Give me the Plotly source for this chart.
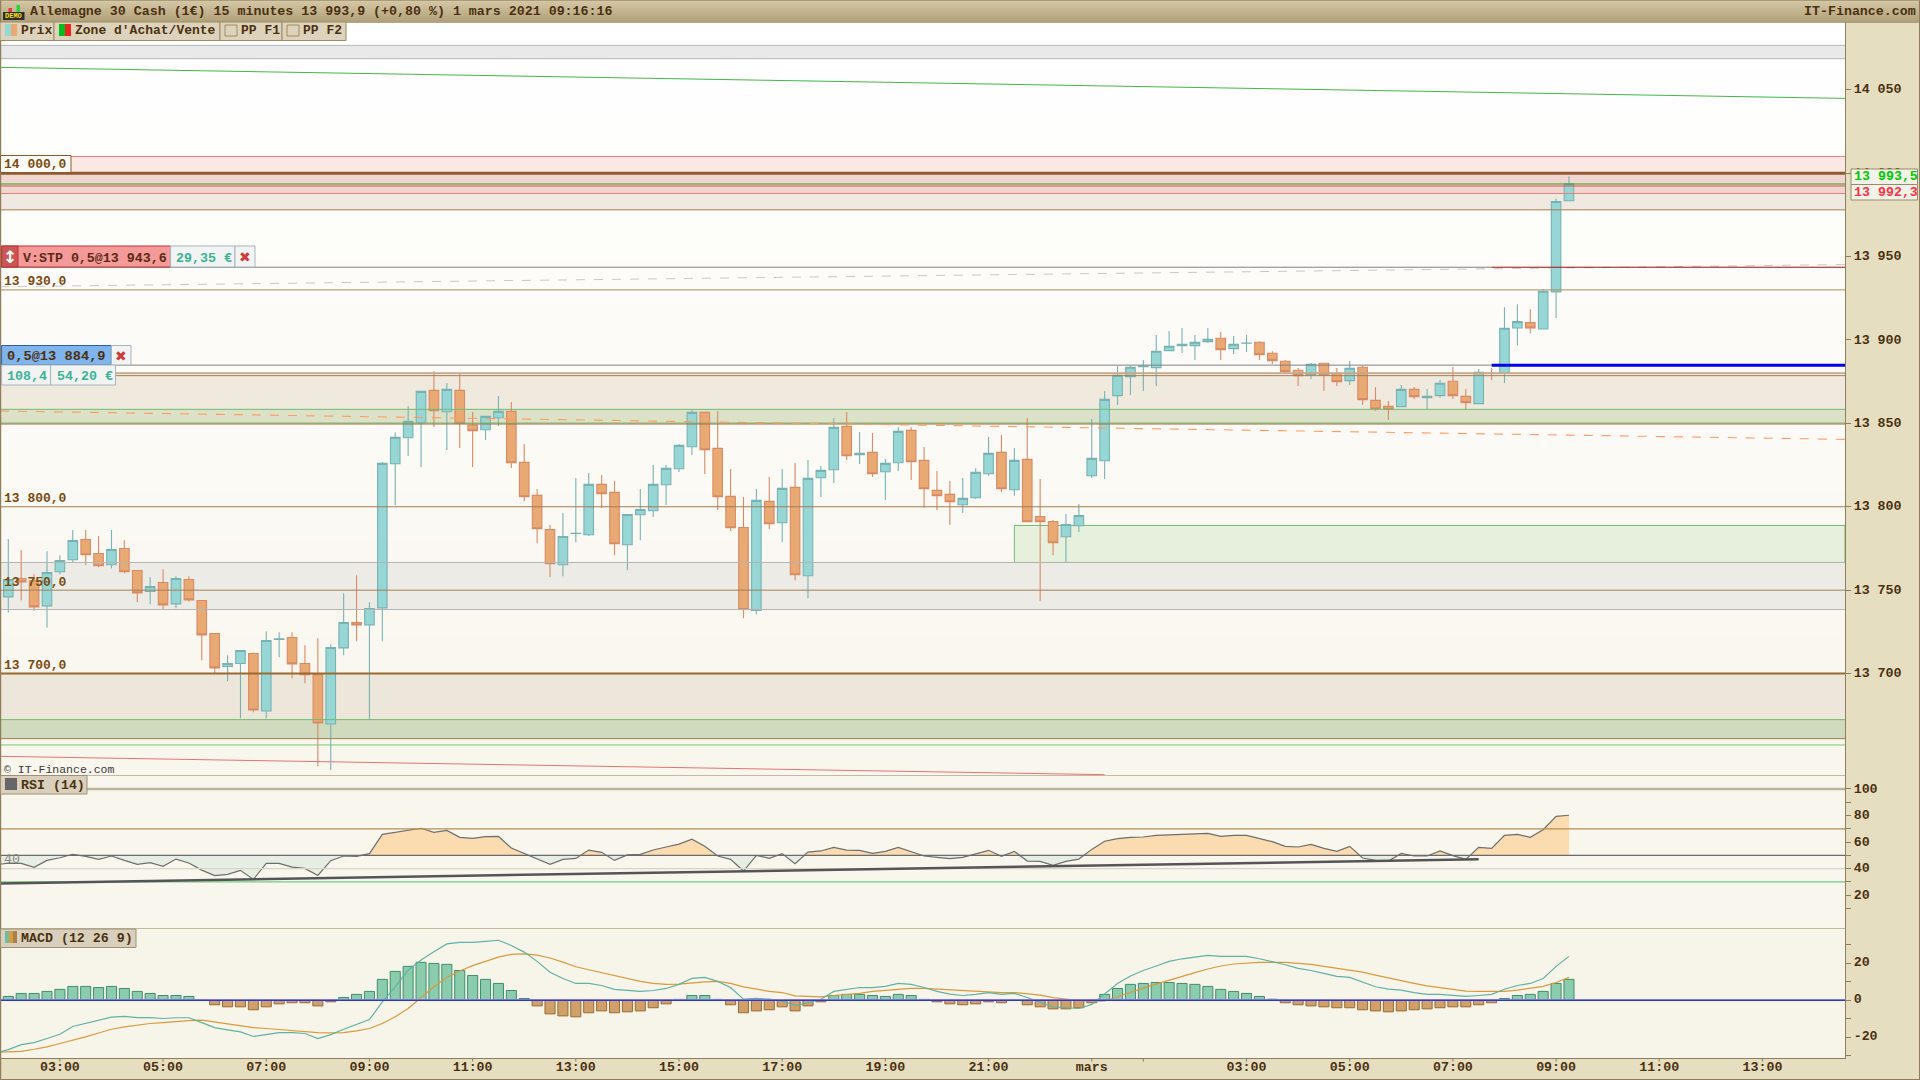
#! /usr/bin/env python
"""Allemagne 30 Cash, 15 minutes, with RSI and MACD panels."""

import numpy as np
import plotly.graph_objects as go

# Candles, one per 15 minutes, bar 0 is 02:00
opens = [13746.0, 13757.0, 13755.6, 13740.6, 13761.0, 13768.2, 13780.4, 13772.0, 13765.2, 13775.0, 13761.8, 13749.2, 13754.6, 13741.8, 13756.4, 13743.8, 13724.0, 13704.2, 13706.0, 13712.0, 13677.6, 13720.4, 13721.6, 13706.0, 13699.4, 13669.8, 13715.4, 13730.6, 13729.2, 13739.4, 13825.8, 13841.4, 13850.4, 13869.8, 13857.0, 13869.8, 13849.0, 13846.2, 13853.4, 13857.2, 13826.6, 13806.8, 13786.4, 13765.2, 13784.0, 13783.2, 13813.4, 13808.6, 13777.2, 13795.2, 13797.6, 13813.2, 13822.8, 13836.0, 13856.6, 13835.0, 13806.2, 13787.6, 13737.8, 13803.2, 13790.4, 13811.6, 13758.6, 13817.4, 13822.2, 13848.2, 13831.2, 13832.6, 13821.0, 13826.4, 13845.8, 13827.8, 13809.8, 13807.4, 13801.2, 13805.4, 13819.8, 13832.6, 13810.2, 13828.4, 13794.2, 13791.2, 13782.0, 13788.6, 13818.6, 13827.6, 13866.6, 13878.0, 13884.0, 13883.4, 13893.6, 13896.6, 13896.6, 13899.0, 13901.0, 13894.8, 13898.0, 13898.6, 13892.0, 13887.2, 13881.8, 13879.2, 13886.0, 13880.0, 13875.6, 13883.6, 13863.8, 13860.2, 13860.0, 13870.4, 13865.4, 13866.6, 13875.2, 13866.2, 13861.8, 13880.0, 13880.0, 13907.2, 13910.4, 13906.6, 13928.8, 13983.4]
highs = [13780.6, 13774.0, 13759.6, 13773.4, 13771.0, 13786.0, 13786.0, 13782.4, 13786.0, 13780.0, 13761.8, 13757.8, 13762.6, 13758.4, 13758.4, 13743.8, 13724.0, 13711.0, 13713.8, 13712.6, 13725.4, 13724.8, 13724.8, 13717.0, 13721.2, 13717.6, 13748.2, 13759.0, 13742.8, 13826.8, 13844.6, 13860.4, 13869.2, 13881.2, 13874.2, 13880.2, 13856.8, 13854.2, 13866.4, 13862.8, 13837.6, 13810.6, 13789.0, 13796.2, 13817.2, 13820.2, 13819.0, 13815.4, 13795.4, 13810.6, 13825.0, 13825.0, 13837.6, 13858.4, 13856.6, 13857.4, 13822.6, 13805.8, 13810.6, 13817.8, 13822.6, 13826.2, 13828.0, 13824.4, 13853.2, 13856.8, 13844.8, 13844.2, 13828.6, 13847.6, 13847.6, 13835.8, 13821.4, 13815.4, 13817.2, 13823.2, 13841.8, 13843.0, 13835.2, 13853.2, 13816.6, 13792.0, 13795.6, 13801.6, 13852.6, 13869.4, 13884.4, 13884.4, 13888.0, 13903.0, 13905.4, 13907.2, 13903.0, 13907.2, 13904.8, 13902.4, 13903.0, 13899.2, 13893.2, 13888.0, 13883.2, 13886.2, 13886.0, 13883.2, 13887.4, 13884.4, 13871.8, 13863.4, 13873.0, 13871.8, 13870.6, 13876.0, 13883.8, 13870.6, 13882.6, 13883.2, 13919.6, 13921.4, 13918.4, 13930.4, 13984.8, 13998.2]
lows = [13736.4, 13744.0, 13737.6, 13727.4, 13759.6, 13766.6, 13765.0, 13763.8, 13763.2, 13760.2, 13742.8, 13741.6, 13738.4, 13739.2, 13743.0, 13708.0, 13699.6, 13695.4, 13673.2, 13676.8, 13673.2, 13709.8, 13697.2, 13694.2, 13644.4, 13642.0, 13711.0, 13719.4, 13672.4, 13719.4, 13801.0, 13830.4, 13823.8, 13847.8, 13834.0, 13835.2, 13823.8, 13840.0, 13848.4, 13823.2, 13803.4, 13778.2, 13757.8, 13758.4, 13778.8, 13782.4, 13799.2, 13771.0, 13762.0, 13780.0, 13793.8, 13801.0, 13820.8, 13831.0, 13819.6, 13798.0, 13785.4, 13733.2, 13735.6, 13786.6, 13778.8, 13756.0, 13745.2, 13805.8, 13814.2, 13828.0, 13825.6, 13817.8, 13804.0, 13821.4, 13816.0, 13799.4, 13798.0, 13789.0, 13796.2, 13804.6, 13818.6, 13808.8, 13806.6, 13791.0, 13743.4, 13771.0, 13766.6, 13784.8, 13817.2, 13816.6, 13861.0, 13867.0, 13869.4, 13872.4, 13893.6, 13892.2, 13888.0, 13898.2, 13888.0, 13891.6, 13892.8, 13888.0, 13885.6, 13879.6, 13872.4, 13876.6, 13869.4, 13872.4, 13873.0, 13861.0, 13857.6, 13852.0, 13860.0, 13864.6, 13858.2, 13865.4, 13864.6, 13858.2, 13861.8, 13876.0, 13874.2, 13896.8, 13904.0, 13906.6, 13913.2, 13983.4]
closes = [13756.4, 13755.0, 13740.0, 13760.6, 13767.8, 13779.8, 13771.2, 13764.6, 13774.4, 13761.0, 13748.4, 13752.2, 13741.2, 13757.0, 13744.2, 13723.2, 13703.4, 13706.0, 13713.8, 13678.2, 13719.8, 13720.8, 13705.8, 13699.4, 13670.4, 13715.6, 13730.6, 13729.2, 13739.0, 13826.0, 13841.6, 13851.2, 13869.2, 13857.6, 13870.4, 13850.0, 13845.6, 13854.2, 13857.2, 13826.4, 13806.0, 13786.8, 13765.8, 13782.2, 13784.1, 13813.4, 13807.8, 13777.8, 13795.4, 13798.4, 13813.4, 13823.0, 13836.8, 13856.6, 13834.2, 13806.0, 13787.4, 13738.4, 13803.8, 13789.8, 13811.0, 13759.2, 13817.0, 13821.8, 13847.6, 13830.6, 13832.0, 13819.8, 13826.0, 13845.2, 13827.0, 13810.8, 13806.6, 13803.0, 13805.0, 13820.6, 13832.0, 13810.8, 13827.8, 13791.0, 13791.0, 13778.4, 13789.4, 13794.8, 13829.0, 13864.4, 13878.8, 13883.6, 13884.4, 13893.2, 13896.2, 13897.4, 13898.6, 13900.4, 13894.2, 13897.4, 13898.1, 13891.2, 13887.6, 13881.0, 13878.6, 13885.4, 13879.0, 13875.0, 13883.0, 13864.2, 13858.8, 13858.4, 13870.4, 13866.0, 13866.2, 13874.0, 13866.6, 13862.4, 13880.6, 13879.9, 13907.0, 13911.0, 13907.2, 13929.2, 13983.0, 13993.6]

# Indicator lines start one bar earlier, the first point sits just off the left edge
rsi = [42.8, 44.2, 44.0, 41.0, 46.2, 48.2, 50.8, 49.2, 47.0, 49.5, 46.2, 43.2, 44.5, 41.7, 47.2, 44.2, 38.9, 34.7, 35.7, 38.7, 31.9, 44.0, 44.0, 41.2, 40.2, 34.9, 46.0, 49.5, 49.2, 51.3, 65.8, 67.3, 68.8, 70.4, 67.3, 68.8, 63.6, 62.8, 64.1, 64.3, 55.5, 51.5, 47.5, 43.2, 47.0, 47.7, 54.0, 52.3, 46.2, 50.3, 50.8, 54.0, 56.3, 58.5, 62.1, 56.8, 49.5, 47.0, 38.2, 50.0, 47.7, 51.3, 43.7, 52.5, 53.3, 56.0, 54.0, 53.8, 51.5, 53.0, 56.0, 53.0, 49.5, 48.5, 47.5, 48.5, 51.3, 53.8, 49.2, 53.0, 45.7, 45.5, 42.5, 45.5, 47.2, 54.5, 60.6, 62.6, 63.6, 63.8, 65.1, 65.6, 65.8, 66.6, 66.6, 64.3, 65.1, 65.1, 62.6, 60.3, 56.8, 56.3, 58.3, 55.3, 53.0, 56.8, 48.0, 46.2, 45.7, 51.5, 49.5, 49.5, 53.3, 49.8, 47.0, 56.0, 55.3, 65.1, 65.8, 63.6, 69.3, 79.4, 80.2]
macd_line = [-28.6, -26.7, -24.0, -22.9, -20.7, -18.4, -14.2, -12.6, -10.8, -9.2, -8.8, -9.4, -9.4, -9.9, -9.5, -9.5, -12.1, -14.8, -16.0, -17.1, -19.6, -18.6, -17.5, -17.5, -18.0, -20.7, -18.6, -15.7, -13.0, -10.5, -0.9, 7.2, 16.2, 21.6, 26.1, 30.3, 31.2, 31.2, 31.7, 32.3, 29.5, 25.9, 20.9, 15.0, 11.7, 9.0, 9.0, 7.9, 5.8, 5.2, 4.7, 5.2, 6.3, 8.5, 11.7, 12.3, 10.1, 6.8, 0.5, 0.9, 0.5, -0.4, -2.9, -1.4, 0.5, 4.7, 5.8, 6.8, 6.8, 7.4, 9.0, 8.5, 6.8, 4.7, 3.2, 2.5, 3.1, 4.1, 3.1, 3.6, 1.4, -1.3, -3.6, -4.1, -4.5, -2.3, 3.6, 9.0, 13.0, 16.0, 18.4, 20.9, 22.3, 23.2, 24.1, 23.6, 23.6, 23.6, 22.3, 20.9, 19.1, 17.1, 16.0, 14.4, 12.8, 12.3, 9.7, 7.2, 5.9, 5.4, 4.1, 3.1, 3.1, 2.5, 2.0, 2.5, 3.1, 5.9, 7.9, 9.0, 11.7, 18.2, 23.6]
macd_signal = [-28.1, -27.9, -27.6, -26.5, -25.2, -23.4, -21.8, -19.8, -17.7, -15.7, -14.4, -13.3, -12.6, -12.1, -11.5, -11.0, -10.8, -11.9, -12.8, -13.9, -14.8, -15.3, -15.9, -16.4, -16.9, -17.5, -17.7, -17.5, -16.6, -15.3, -12.6, -9.0, -4.5, 1.4, 7.2, 12.3, 15.7, 18.6, 21.1, 23.2, 24.7, 24.9, 24.3, 22.7, 20.5, 18.0, 16.4, 14.8, 13.2, 11.4, 10.1, 9.0, 8.5, 8.6, 9.4, 9.9, 10.1, 9.0, 7.2, 5.9, 4.7, 4.1, 2.3, 2.0, 1.8, 2.5, 3.1, 3.6, 4.7, 5.2, 5.8, 6.3, 6.3, 5.9, 5.4, 5.2, 4.7, 4.5, 4.1, 4.1, 3.6, 2.7, 1.4, 0.4, -0.2, -0.7, -0.4, 1.8, 4.3, 6.5, 8.6, 10.8, 12.6, 14.8, 16.8, 18.4, 19.5, 20.0, 20.4, 20.4, 20.4, 19.8, 19.3, 18.2, 17.1, 16.0, 15.1, 13.5, 11.9, 10.6, 9.0, 7.7, 6.7, 5.8, 4.9, 4.7, 4.7, 4.7, 5.4, 6.3, 7.4, 9.5, 12.3]
macd_hist = [2.0, 3.6, 3.6, 4.7, 5.8, 7.4, 7.4, 6.8, 7.4, 6.3, 4.7, 3.6, 2.5, 2.5, 2.0, 0.1, -2.5, -3.6, -3.6, -5.2, -3.6, -2.0, -1.4, -1.4, -3.1, -0.9, 1.4, 3.1, 4.7, 11.2, 15.5, 18.2, 20.4, 19.8, 19.3, 16.0, 13.3, 11.2, 9.0, 5.2, 0.9, -3.1, -7.4, -8.5, -9.0, -6.8, -5.8, -6.8, -6.3, -5.8, -4.1, -2.0, 0.4, 2.5, 2.5, 0.4, -2.5, -6.8, -5.8, -5.2, -3.6, -5.8, -3.1, -0.9, 2.5, 3.1, 3.1, 2.5, 2.0, 3.1, 2.5, 0.4, -0.9, -2.0, -2.5, -2.0, -0.9, -1.4, 0.0, -2.5, -3.6, -4.7, -4.7, -4.1, -1.4, 3.1, 6.3, 8.5, 9.0, 9.5, 9.5, 9.0, 8.5, 7.4, 5.8, 4.7, 3.6, 2.0, 0.5, -1.4, -2.5, -3.1, -3.6, -4.1, -4.1, -5.2, -5.8, -6.3, -5.8, -5.2, -4.7, -4.1, -3.6, -3.6, -2.5, -1.4, 0.9, 2.5, 3.1, 4.7, 9.0, 11.2]

time_ticks = [4, 12, 20, 28, 36, 44, 52, 60, 68, 76, 84, 88, 96, 104, 112, 120, 128, 136]
time_labels = ["03:00", "05:00", "07:00", "09:00", "11:00", "13:00", "15:00", "17:00", "19:00", "21:00", "mars", "", "03:00", "05:00", "07:00", "09:00", "11:00", "13:00"]
price_ticks = [14050, 14000, 13950, 13900, 13850, 13800, 13750, 13700]
price_labels = ["14 050", "14 000", "13 950", "13 900", "13 850", "13 800", "13 750", "13 700"]
rsi_ticks = [100, 90, 80, 70, 60, 50, 40, 30, 20, 10]
rsi_labels = ["100", "", "80", "", "60", "", "40", "", "20", ""]
macd_ticks = [30, 20, 10, 0, -10, -20, -30]
macd_labels = ["", "20", "", "0", "", "-20", ""]

# Price levels and zones
level_labels = ["13 930,0", "13 800,0", "13 750,0", "13 700,0"]
level_values = [13930, 13800, 13750, 13700]
grey_top_zone = [14076.6, 14068.6]
grey_mid_zone = [13766.6, 13738.4]
green_trend = [14063.4, 14044.8]
grey_trend = [13931.9, 13945.2]
orange_trend = [13857.4, 13840.4]
red_trend = [13650.4, 13639.4]
red_trend_end_bar = 85
rsi_trend = [28.9, 47.0]
rsi_trend_end_bar = 114
buy_box = [13788.8, 13766.6]
buy_box_start_bar = 78
order_start_bar = 115

FONT = "Liberation Mono"
SANS = "DejaVu Sans"
BORDER = "#8f7d5c"
BROWN = "#a67c52"
LABEL = "#4b3010"
TXT = 13.3
X_LEFT, X_RIGHT = -0.643, 142.4
PLOT_W = 1845
x = list(range(len(opens)))
x_ind = list(range(-1, len(opens)))


def px(v):
    return v / 1920


def py(v):
    return 1 - v / 1080


def mix(c0, c1, t):
    return "rgb(%d,%d,%d)" % tuple(round(a + (b - a) * t) for a, b in zip(c0, c1))


shapes = []
notes = []


def box(x0, y0, x1, y1, fill, line=None, w=1, layer="above"):
    shapes.append(dict(type="rect", xref="paper", yref="paper", x0=px(x0), x1=px(x1), y0=py(y0), y1=py(y1),
                       fillcolor=fill, line=dict(color=line or fill, width=w if line else 0), layer=layer))


def text(x0, y0, s, color=LABEL, size=TXT, weight=700, anchor="left", family=FONT):
    notes.append(dict(text=s, xref="paper", yref="paper", x=px(x0), y=py(y0), showarrow=False, xanchor=anchor,
                      yanchor="middle", borderpad=0, font=dict(family=family, size=size, color=color, weight=weight)))


def level(y0, color, w=1, dash="solid", x0=X_LEFT, x1=X_RIGHT, y1=None, yref="y", layer="above"):
    shapes.append(dict(type="line", xref="x", yref=yref, x0=x0, x1=x1, y0=y0, y1=y0 if y1 is None else y1,
                       line=dict(color=color, width=w, dash=dash), layer=layer))


def zone(y0, y1, color, x0=X_LEFT, line=None):
    shapes.append(dict(type="rect", xref="x", yref="y", x0=x0, x1=X_RIGHT, y0=y0, y1=y1, fillcolor=color,
                       line=dict(color=line or color, width=1 if line else 0), layer="below"))


def with_crossings(xs, ys, base):
    # adds the points where the line cuts the base so the fills stop exactly there
    out_x, out_y = [xs[0]], [ys[0]]
    for i in range(1, len(xs)):
        if (ys[i - 1] - base) * (ys[i] - base) < 0:
            out_x.append(xs[i - 1] + (base - ys[i - 1]) / (ys[i] - ys[i - 1]))
            out_y.append(base)
        out_x.append(xs[i])
        out_y.append(ys[i])
    return np.array(out_x), np.array(out_y)


# Page chrome
for k in range(16):
    box(0, 22 + k * 753 / 16, PLOT_W, 22 + (k + 1) * 753 / 16 + 1, mix((255, 255, 255), (249, 246, 238), k / 15), layer="below")
box(0, 775, PLOT_W, 928, "#f9f6ee", layer="below")
box(0, 928, PLOT_W, 1058, "#f7f4e9", layer="below")
box(PLOT_W, 22, 1920, 1080, "#e6dec0", layer="below")
box(0, 1058, PLOT_W, 1080, "#e6dec0", layer="below")
for k in range(11):
    box(0, k * 2, 1920, k * 2 + 2.5, mix((213, 199, 164), (178, 162, 123), k / 10), layer="below")

# Zones under the candles
zone(grey_top_zone[0], grey_top_zone[1], "#e9e9e9")
zone(14010, 14000, "#fbe8e5")
zone(14000, 13978, "#f0e9e2")
zone(14000, 13987.8, "#f0d6cf")
zone(13878.6, 13850, "#f0e9de")
zone(13858.4, 13850, "#dce2c8")
zone(grey_mid_zone[0], grey_mid_zone[1], "#edebe5")
zone(buy_box[0], buy_box[1], "#e6f0dc", x0=buy_box_start_bar, line="#6cbc6c")
zone(13699.8, 13661, "#ede6da")
zone(13672.4, 13661, "#d0dabc")

# Lines over the candles
for v in grey_top_zone + grey_mid_zone:
    level(v, "#b4b4b4")
level(green_trend[0], "#45b845", y1=green_trend[1])
level(14010, "#ee7d75")
level(14000, "#8e5a30", w=3)
level(13993.5, "#22aa22")
level(13992.3, "#e05050")
level(13987.8, "#e88080")
level(13978, BROWN)
level(grey_trend[0], "#c8c8c8", dash="dash", y1=grey_trend[1])
level(13943.6, "#808080", x1=order_start_bar)
level(13943.6, "#a01010", x0=order_start_bar)
level(13930, "#ad8a5e")
level(13884.9, "#808080", x1=order_start_bar)
level(13884.9, "#0000ee", w=3, x0=order_start_bar)
level(13880, "#c4a98c", w=2)
level(13878.6, BROWN)
level(13858.4, "#72bb72")
level(13850.2, "#72bb72")
level(13849.6, "#a07040")
level(orange_trend[0], "#ff9a60", w=1.1, dash="dash", y1=orange_trend[1])
level(13800, BROWN)
level(13750, "#a08058")
level(13700, "#9a6a30", w=2)
level(13672.4, "#72bb72")
level(13661, BROWN)
level(13657.2, "#72cc72")
level(red_trend[0], "#e57373", x1=red_trend_end_bar, y1=red_trend[1])

# RSI levels
level(100, "#bdb39c", w=2.5, yref="y2")
level(70, "#b88c50", w=1.3, yref="y2")
level(50, "#6a6a6a", w=1.3, yref="y2")
level(40, "#d8d4c8", w=1.3, yref="y2")
level(30, "#70cc80", w=1.3, yref="y2")
level(rsi_trend[0], "#555555", w=2.5, x1=rsi_trend_end_bar, y1=rsi_trend[1], yref="y2")

# MACD zero and panel borders
level(0.3, "#c8b8e8", w=1, yref="y3")
level(0, "#2b35d8", w=1.5, yref="y3")
box(0, 775, PLOT_W, 775.6, BORDER)
box(0, 928, PLOT_W, 928.6, BORDER)
box(0, 22, 1920, 22.6, BORDER)
box(0, 0, 1.2, 1080, BORDER)
box(1919, 0, 1920, 1080, BORDER)
box(0, 1079, 1920, 1080, BORDER)
box(0, 0, 1920, 0.8, "#9d8f6e")

# Time tick marks, short so the labels can sit close to the axis
for t in time_ticks:
    shapes.append(dict(type="line", xref="x", yref="paper", x0=t, x1=t, y0=py(1058), y1=py(1061.5),
                       line=dict(color=BORDER, width=1), layer="above"))

fig = go.Figure()
fig.add_trace(go.Candlestick(x=x, open=opens, high=highs, low=lows, close=closes, xaxis="x", yaxis="y",
                             increasing=dict(fillcolor="#96d6d4", line=dict(color="#78b3b4", width=1.1)),
                             decreasing=dict(fillcolor="#e9a972", line=dict(color="#d98a66", width=1.1)),
                             whiskerwidth=0, showlegend=False, hoverinfo="skip"))

xs, ys = with_crossings(x_ind, rsi, 50)
base = np.full(len(xs), 50.0)
for part, colour in ((np.maximum(ys, 50), "#fadcb0"), (np.minimum(ys, 50), "#e6ede2")):
    fig.add_trace(go.Scatter(x=xs, y=base, mode="lines", line=dict(width=0), yaxis="y2", showlegend=False, hoverinfo="skip"))
    fig.add_trace(go.Scatter(x=xs, y=part, mode="lines", line=dict(width=0), fill="tonexty", fillcolor=colour,
                             yaxis="y2", showlegend=False, hoverinfo="skip"))
fig.add_trace(go.Scatter(x=x_ind, y=rsi, mode="lines", line=dict(color="#6e6e6e", width=1.2), yaxis="y2", showlegend=False, hoverinfo="skip"))

fig.add_trace(go.Bar(x=x, y=macd_hist, width=0.78, yaxis="y3", showlegend=False, hoverinfo="skip",
                     marker=dict(color=["#8accab" if v >= 0 else "#d0a068" for v in macd_hist],
                                 line=dict(color=["#3f8f6e" if v >= 0 else "#9a6a30" for v in macd_hist], width=1))))
fig.add_trace(go.Scatter(x=x_ind, y=macd_signal, mode="lines", line=dict(color="#d99a3c", width=1.2), yaxis="y3", showlegend=False, hoverinfo="skip"))
fig.add_trace(go.Scatter(x=x_ind, y=macd_line, mode="lines", line=dict(color="#5fb3a3", width=1.2), yaxis="y3", showlegend=False, hoverinfo="skip"))

# Title bar
box(3, 12, 24.5, 20, "#2c2c34", layer="above")
box(8.5, 8, 12, 12, "#e04040", layer="above")
box(16.5, 5, 20, 12, "#30d040", layer="above")
text(13.7, 16, "DEMO", color="#ffe000", size=7, anchor="center")
text(29, 12, "Allemagne 30 Cash (1€) 15 minutes 13 993,9 (+0,80 %) 1 mars 2021 09:16:16")
text(1917, 12, "IT-Finance.com", anchor="right")

# Legend strip
legend_boxes = [(0, 54), (54, 220), (220, 282), (282, 346)]
for x0, x1 in legend_boxes:
    box(x0, 22, x1, 40.5, "#ddd3bd", line="#a08c60")
box(5, 24, 11, 36, "#96d6d4")
box(11, 24, 17, 36, "#e9a972")
box(59, 24, 65, 36, "#00c020")
box(65, 24, 71, 36, "#ee2020")
box(225, 25, 237, 36, "#ddd3bd", line="#a08c60")
box(287, 25, 299, 36, "#ddd3bd", line="#a08c60")
text(19.5, 30.5, "Prix", size=13)
text(74, 30.5, "Zone d'Achat/Vente", size=13)
text(239.5, 30.5, "PP F1", size=13)
text(301.5, 30.5, "PP F2", size=13)

# Level labels
box(0.5, 155.5, 71, 172.5, "#fdfbf6", line="#8e5a30")
text(3, 164, "14 000,0", color="#7a4a10", size=13)
for label, y0 in zip(level_labels, [281.5, 498, 582.5, 665.5]):
    text(3, y0, label, color="#7a4a10", size=13)
text(3, 770, "© IT-Finance.com", color="#3a3a3a", size=11.5, weight=400)

# Order tags
box(1.6, 246, 170.6, 267, "#f59a9a", line="#c03030")
box(1.6, 246, 18, 267, "#cc5555", line="#c03030")
text(9.5, 257, "↕", color="#ffffff", size=17, family=SANS, anchor="center")
text(21.6, 258, "V:STP 0,5@13 943,6", color="#5a2a10")
box(170.6, 246, 235, 267, "#f2f4f4", line="#a9b4bc")
text(175, 258, "29,35 €", color="#3bb394")
box(235, 246, 255, 267, "#f2f4f4", line="#a9b4bc")
text(245, 257, "✖", color="#d03a3a", size=14, family=SANS, anchor="center")
box(1.6, 345.5, 111.4, 365, "#7fb4ec", line="#2a5ea8")
text(5.5, 356.5, "0,5@13 884,9", color="#4b3010", size=13.7)
box(111.4, 345.5, 131, 365, "#f2f4f4", line="#a9b4bc")
text(121, 356, "✖", color="#d03a3a", size=14, family=SANS, anchor="center")
box(1.6, 365, 50.6, 385, "#f2f4f4", line="#a9b4bc")
text(6, 376.5, "108,4", color="#3bb394")
box(50.6, 365, 115.5, 385, "#f2f4f4", line="#a9b4bc")
text(55.5, 376.5, "54,20 €", color="#3bb394")

# Last price tags
box(1851, 169, 1917.5, 184.5, "#f4f3ea", line="#9a8a68")
box(1851, 184.5, 1917.5, 200, "#f4f3ea", line="#9a8a68")
text(1852.5, 176.5, "13 993,5", color="#00cc00")
text(1852.5, 192.5, "13 992,3", color="#ff3344")

# Indicator labels
box(0.5, 775.5, 87, 794, "#d8d0bc", line="#a09070")
box(5, 778, 17, 790, "#666666")
text(19.5, 785, "RSI (14)")
text(3, 859.5, "40", color="#8a8a80", weight=400)
box(0.5, 929, 136, 947.5, "#d8d0bc", line="#a09070")
box(5, 931, 9, 943, "#74bba6")
box(9, 931, 13, 943, "#d99a3c")
box(13, 931, 17, 943, "#a88050")
text(19.5, 938, "MACD (12 26 9)")

tick_font = dict(family=FONT, size=TXT, color=LABEL, weight=700)
y_common = dict(side="right", anchor="x", showgrid=False, zeroline=False, tickmode="array", ticks="outside", ticklen=5,
                tickcolor=BORDER, tickfont=tick_font, showline=True, linecolor=BORDER, linewidth=1)

fig.update_layout(
    width=1920, height=1080, autosize=False, margin=dict(l=0, r=0, t=0, b=0),
    paper_bgcolor="#f9f6ee", plot_bgcolor="rgba(0,0,0,0)", showlegend=False, hovermode=False,
    boxgap=0.26, boxgroupgap=0,
    shapes=shapes, annotations=notes,
    xaxis=dict(domain=[0, px(PLOT_W)], range=[X_LEFT, X_RIGHT], anchor="y3", rangeslider=dict(visible=False),
               showgrid=False, zeroline=False, tickmode="array", tickvals=time_ticks, ticktext=time_labels,
               ticks="", tickfont=tick_font, showline=True, linecolor=BORDER, ticklabelstandoff=-4),
    yaxis=dict(domain=[py(775), py(22)], range=[13639.2, 14090.6], tickvals=price_ticks, ticktext=price_labels, ticklabelshift=-1, **y_common),
    yaxis2=dict(domain=[py(928), py(775)], range=[-4.7, 110.5], tickvals=rsi_ticks, ticktext=rsi_labels, ticklabelshift=-1, **y_common),
    yaxis3=dict(domain=[py(1058), py(928)], range=[-31.2, 38.9], tickvals=macd_ticks, ticktext=macd_labels, ticklabelshift=-2, **y_common),
)

fig.write_html("out.html", config=dict(displayModeBar=False), post_script="document.body.style.margin = '0';")
